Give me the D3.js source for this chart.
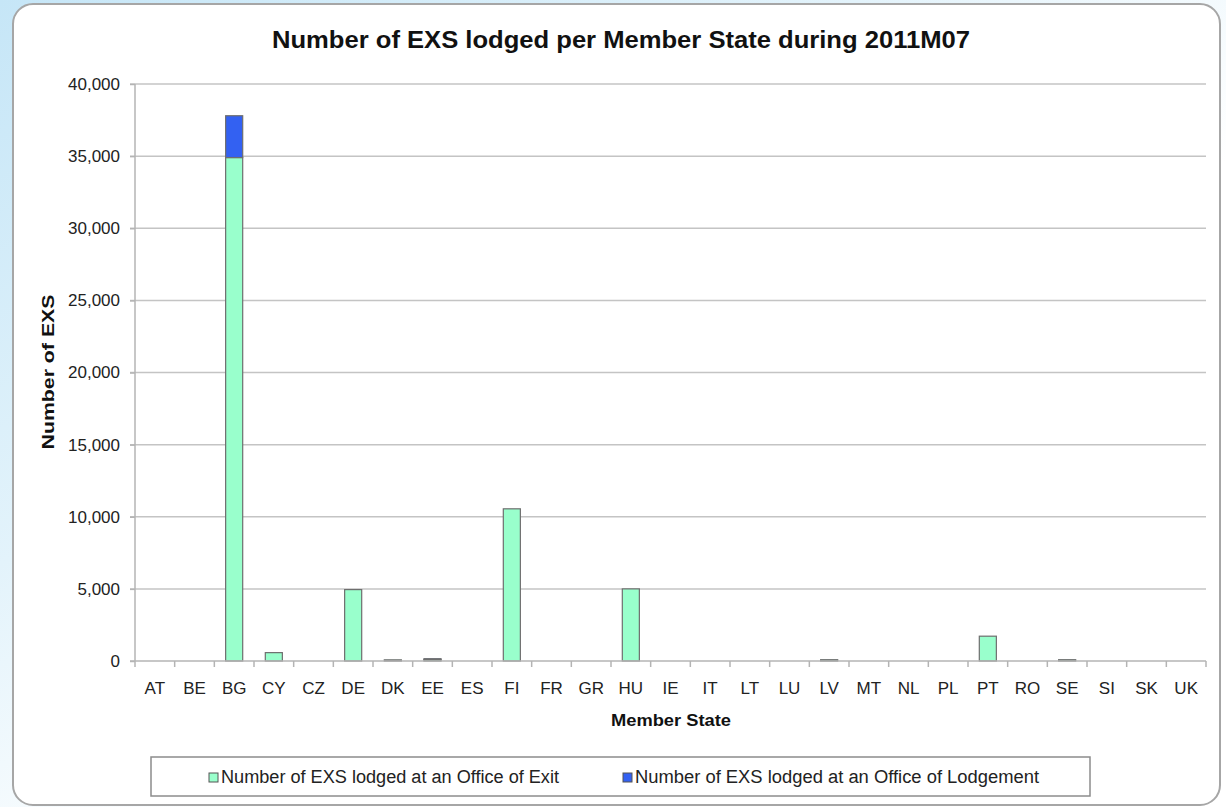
<!DOCTYPE html>
<html>
<head>
<meta charset="utf-8">
<script src="https://cdn.jsdelivr.net/npm/d3@7"></script>
<style>
  body { margin: 0; background: #fff; }
  svg { display: block; font-family: "Liberation Sans", Arial, sans-serif; }
</style>
</head>
<body>
<svg width="1226" height="807"></svg>
<script>
var states = ["AT","BE","BG","CY","CZ","DE","DK","EE","ES","FI","FR","GR","HU","IE","IT","LT","LU","LV","MT","NL","PL","PT","RO","SE","SI","SK","UK"];
var exitValues =      [0,0,34900,580,0,4950,80,100,0,10550,0,0,5000,0,0,0,0,90,0,0,0,1720,0,90,0,0,0];
var lodgementValues = [0,0,2900,0,0,0,0,60,0,0,0,0,0,0,0,0,0,0,0,0,0,0,0,0,0,0,0];
var seriesNames = ["Number of EXS lodged at an Office of Exit", "Number of EXS lodged at an Office of Lodgement"];
var seriesColors = ["#99ffcc", "#3361f2"];
var yTicks = [0,5000,10000,15000,20000,25000,30000,35000,40000];

var svg = d3.select("svg");

// slide background in the top left corner
var defs = svg.append("defs");
var grad = defs.append("linearGradient").attr("id", "bg")
    .attr("x1", "0").attr("y1", "0").attr("x2", "1").attr("y2", "1");
grad.append("stop").attr("offset", "0").attr("stop-color", "#c6e6f7");
grad.append("stop").attr("offset", "0.35").attr("stop-color", "#e3f3fb");
grad.append("stop").attr("offset", "0.6").attr("stop-color", "#ffffff");
svg.append("rect").attr("width", 1226).attr("height", 807).attr("fill", "url(#bg)");

// chart frame
svg.append("rect")
    .attr("x", 13).attr("y", 4).attr("width", 1207).attr("height", 801)
    .attr("rx", 20).attr("ry", 20)
    .attr("fill", "#fff").attr("stroke", "#a6a6a6").attr("stroke-width", 2);

var margin = {top: 84, left: 135, right: 20, bottom: 146},
    width = 1206 - margin.left,
    height = 661 - margin.top;

var g = svg.append("g").attr("transform", "translate(" + margin.left + "," + margin.top + ")");

var x = d3.scaleBand().domain(states).range([0, width]).paddingInner(0.57).paddingOuter(0.285);
var xTick = d3.scaleBand().domain(states).range([0, width]);
var y = d3.scaleLinear().domain([0, 40000]).range([height, 0]);

// gridlines
g.append("g").selectAll("line")
    .data(yTicks.slice(1))
    .enter().append("line")
    .attr("x1", -5).attr("x2", width)
    .attr("y1", function(d) { return y(d); })
    .attr("y2", function(d) { return y(d); })
    .attr("stroke", "#c4c4c4").attr("stroke-width", 1.5);

// stacked bars
var table = states.map(function(s, i) { return {state: s, exit: exitValues[i], lodgement: lodgementValues[i]}; });
var stacked = d3.stack().keys(["exit", "lodgement"])(table);

var series = g.selectAll(".series")
    .data(stacked)
    .enter().append("g")
    .attr("fill", function(d, i) { return seriesColors[i]; });

series.selectAll("rect")
    .data(function(d) { return d.filter(function(e) { return e[1] - e[0] > 0; }); })
    .enter().append("rect")
    .attr("x", function(d) { return x(d.data.state); })
    .attr("width", x.bandwidth())
    .attr("y", function(d) { return y(d[1]); })
    .attr("height", function(d) { return Math.max(y(d[0]) - y(d[1]), 1); })
    .attr("stroke", "#6e6e6e").attr("stroke-width", 1.2);

// y axis
var yAxis = g.append("g")
    .call(d3.axisLeft(y).tickValues(yTicks).tickSize(5).tickPadding(10).tickFormat(d3.format(",")));
yAxis.select(".domain").attr("stroke", "#b4b4b4").attr("stroke-width", 1.5).attr("d", "M0,0V" + height);
yAxis.selectAll(".tick line").attr("stroke", "#b4b4b4").attr("stroke-width", 1.5);
yAxis.selectAll(".tick text").attr("font-size", 17).attr("fill", "#222");

// x axis
var xAxis = g.append("g").attr("transform", "translate(0," + height + ")")
    .call(d3.axisBottom(x).tickSize(0).tickPadding(21));
xAxis.select(".domain").attr("stroke", "#b4b4b4").attr("stroke-width", 1.5).attr("d", "M-5,0H" + width);
xAxis.selectAll(".tick text").attr("font-size", 17).attr("fill", "#222");
g.append("g").selectAll("line")
    .data(states.concat(["end"]))
    .enter().append("line")
    .attr("x1", function(d, i) { return i * xTick.step(); })
    .attr("x2", function(d, i) { return i * xTick.step(); })
    .attr("y1", height).attr("y2", height + 6)
    .attr("stroke", "#b4b4b4").attr("stroke-width", 1.5);

// title and axis titles
svg.append("text")
    .attr("x", 621).attr("y", 48)
    .attr("text-anchor", "middle")
    .attr("font-size", 24).attr("font-weight", "bold").attr("fill", "#111")
    .attr("textLength", 698).attr("lengthAdjust", "spacingAndGlyphs")
    .text("Number of EXS lodged per Member State during 2011M07");

svg.append("text")
    .attr("x", 671).attr("y", 726)
    .attr("text-anchor", "middle")
    .attr("font-size", 17).attr("font-weight", "bold").attr("fill", "#111")
    .attr("textLength", 120).attr("lengthAdjust", "spacingAndGlyphs")
    .text("Member State");

svg.append("text")
    .attr("transform", "translate(54,372) rotate(-90)")
    .attr("text-anchor", "middle")
    .attr("font-size", 17).attr("font-weight", "bold").attr("fill", "#111")
    .attr("textLength", 155).attr("lengthAdjust", "spacingAndGlyphs")
    .text("Number of EXS");

// legend
svg.append("rect")
    .attr("x", 151).attr("y", 757).attr("width", 939).attr("height", 39)
    .attr("fill", "#fff").attr("stroke", "#8c8c8c").attr("stroke-width", 1.5);

var legendX = [209, 623];
var legend = svg.selectAll(".legend")
    .data(seriesNames)
    .enter().append("g")
    .attr("transform", function(d, i) { return "translate(" + legendX[i] + ",777)"; });
legend.append("rect")
    .attr("x", 0).attr("y", -4).attr("width", 9).attr("height", 9)
    .attr("fill", function(d, i) { return seriesColors[i]; })
    .attr("stroke", "#555").attr("stroke-width", 1);
legend.append("text")
    .attr("x", 12).attr("y", 6)
    .attr("font-size", 18).attr("fill", "#222")
    .attr("textLength", function(d, i) { return i === 0 ? 338 : 404; })
    .attr("lengthAdjust", "spacingAndGlyphs")
    .text(function(d) { return d; });
</script>
</body>
</html>
